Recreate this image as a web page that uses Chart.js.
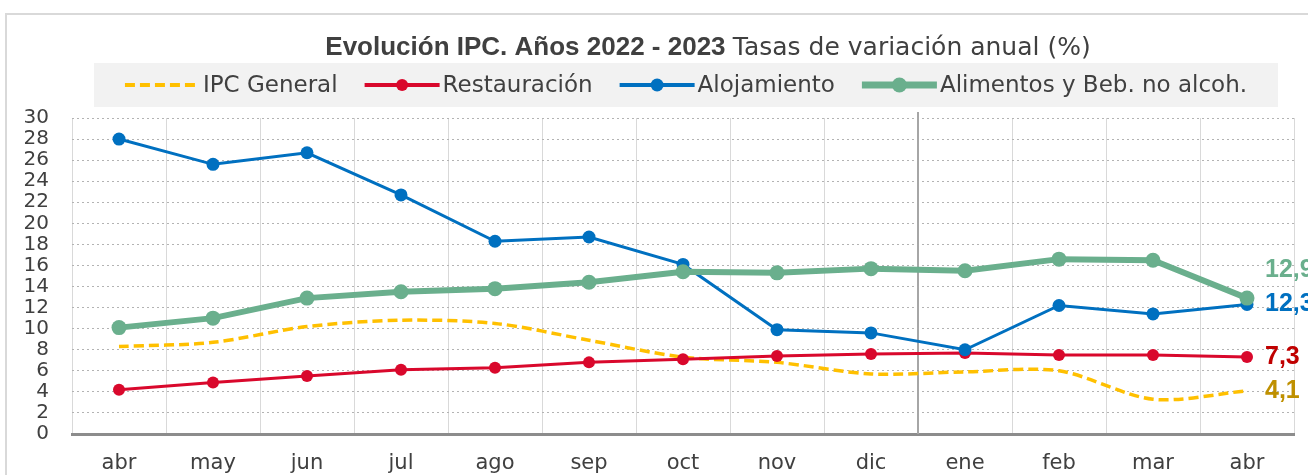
<!DOCTYPE html>
<html>
<head>
<meta charset="utf-8">
<title>Evolución IPC</title>
<script src="https://cdn.jsdelivr.net/npm/chart.js@4.4.1/dist/chart.umd.min.js"></script>
<style>
body{margin:0;background:#fff;}
.wrap{width:1308px;height:475px;position:relative;}
</style>
</head>
<body>
<div class="wrap"><canvas id="ipcChart" width="1308" height="475"></canvas></div>
<script>
// ====================================
// DATA
// ====================================

const meses = ['abr','may','jun','jul','ago','sep','oct','nov','dic','ene','feb','mar','abr'];

const ipcGeneral   = [8.3, 8.7, 10.2, 10.8, 10.5, 8.9, 7.3, 6.8, 5.7, 5.9, 6.0, 3.3, 4.1];
const restauracion = [4.2, 4.9, 5.5, 6.1, 6.3, 6.8, 7.1, 7.4, 7.6, 7.7, 7.5, 7.5, 7.3];
const alojamiento  = [28.0, 25.6, 26.7, 22.7, 18.3, 18.7, 16.1, 9.9, 9.6, 8.0, 12.2, 11.4, 12.3];
const alimentos    = [10.1, 11.0, 12.9, 13.5, 13.8, 14.4, 15.4, 15.3, 15.7, 15.5, 16.6, 16.5, 12.9];

const yTicks = [0, 2, 4, 6, 8, 10, 12, 14, 16, 18, 20, 22, 24, 26, 28, 30];

const tituloBold   = 'Evolución IPC. Años 2022 - 2023';
const tituloNormal = 'Tasas de variación anual (%)';

// ====================================
// LAYOUT
// ====================================

const PLOT_LEFT = 72;
const PLOT_RIGHT = 1294;
const PLOT_TOP = 118;
const PLOT_BOTTOM = 434;
const TEXT = '#404040';

Chart.defaults.font.family = 'DejaVu Sans';
Chart.defaults.color = TEXT;

// ====================================
// PLUGIN: marco, titulo, leyenda, etiquetas
// ====================================

const decoPlugin = {
    id: 'deco',

    beforeDraw(chart){
        const ctx = chart.ctx;
        ctx.save();
        ctx.fillStyle = '#ffffff';
        ctx.fillRect(0, 0, chart.width, chart.height);

        // marco exterior
        ctx.strokeStyle = '#d9d9d9';
        ctx.lineWidth = 2;
        ctx.strokeRect(6, 14, chart.width + 20, chart.height + 20);

        // fondo leyenda
        ctx.fillStyle = '#f2f2f2';
        ctx.fillRect(94, 63, 1184, 44);
        ctx.restore();
    },

    beforeDatasetsDraw(chart){
        // separador 2022 / 2023
        const ctx = chart.ctx;
        const xs = chart.scales.x;
        const x = (xs.getPixelForValue(8) + xs.getPixelForValue(9)) / 2;
        ctx.save();
        ctx.strokeStyle = '#a6a6a6';
        ctx.lineWidth = 2;
        ctx.beginPath();
        ctx.moveTo(x, 112);
        ctx.lineTo(x, chart.chartArea.bottom);
        ctx.stroke();
        ctx.restore();
    },

    afterDraw(chart){
        const ctx = chart.ctx;
        ctx.save();

        // titulo
        const fBold = 'bold 26px "Liberation Sans"';
        const fNorm = '25px "DejaVu Sans"';
        ctx.font = fBold;
        const wB = ctx.measureText(tituloBold + ' ').width;
        ctx.font = fNorm;
        const wN = ctx.measureText(tituloNormal).width;
        let tx = 708 - (wB + wN) / 2;
        ctx.fillStyle = TEXT;
        ctx.textBaseline = 'alphabetic';
        ctx.textAlign = 'left';
        ctx.font = fBold;
        ctx.fillText(tituloBold, tx, 55);
        ctx.font = fNorm;
        ctx.fillText(tituloNormal, tx + wB, 55);

        // leyenda
        const symW = 75, gapTxt = 3, gapItem = 27, cy = 85;
        ctx.font = '23px "DejaVu Sans"';
        const ds = chart.data.datasets;
        const widths = ds.map(d => symW + gapTxt + ctx.measureText(d.label).width);
        const total = widths.reduce((a, b) => a + b, 0) + gapItem * (ds.length - 1);
        let lx = 686 - total / 2;
        ds.forEach((d, i) => {
            ctx.save();
            ctx.strokeStyle = d.borderColor;
            ctx.lineWidth = d.legendWidth;
            ctx.setLineDash(d.borderDash || []);
            ctx.beginPath();
            ctx.moveTo(lx, cy);
            ctx.lineTo(lx + symW, cy);
            ctx.stroke();
            if (d.pointRadius > 0) {
                ctx.fillStyle = d.borderColor;
                ctx.beginPath();
                ctx.arc(lx + symW / 2, cy, d.pointRadius, 0, Math.PI * 2);
                ctx.fill();
            }
            ctx.restore();
            ctx.fillStyle = TEXT;
            ctx.textBaseline = 'middle';
            ctx.fillText(d.label, lx + symW + gapTxt, cy + 1);
            lx += widths[i] + gapItem;
        });

        // etiquetas del ultimo punto
        ctx.font = 'bold 25px "Liberation Sans"';
        ctx.textBaseline = 'middle';
        ds.forEach((d, i) => {
            const meta = chart.getDatasetMeta(i);
            const pt = meta.data[meta.data.length - 1];
            const v = d.data[d.data.length - 1];
            ctx.fillStyle = d.labelColor;
            ctx.fillText(v.toFixed(1).replace('.', ','), pt.x + 18, pt.y + d.labelShift);
        });

        ctx.restore();
    }
};

// ====================================
// CHART
// ====================================

const ctxIpc = document.getElementById('ipcChart').getContext('2d');

const ipcChart = new Chart(ctxIpc, {
    type: 'line',
    data: {
        labels: meses,
        datasets: [
            {
                label: 'IPC General',
                data: ipcGeneral,
                borderColor: '#FFC000',
                borderWidth: 3.5,
                borderDash: [10, 5],
                tension: 0.3,
                pointRadius: 0,
                legendWidth: 4,
                labelColor: '#BF9000',
                labelShift: 0,
                order: 4
            },
            {
                label: 'Restauración',
                data: restauracion,
                borderColor: '#D9082C',
                backgroundColor: '#D9082C',
                borderWidth: 3,
                pointRadius: 6,
                pointBorderWidth: 0,
                legendWidth: 4,
                labelColor: '#C00000',
                labelShift: 0,
                order: 3
            },
            {
                label: 'Alojamiento',
                data: alojamiento,
                borderColor: '#0070C0',
                backgroundColor: '#0070C0',
                borderWidth: 3,
                pointRadius: 6.5,
                pointBorderWidth: 0,
                legendWidth: 4,
                labelColor: '#0070C0',
                labelShift: 0,
                order: 2
            },
            {
                label: 'Alimentos y Beb. no alcoh.',
                data: alimentos,
                borderColor: '#6AAF8D',
                backgroundColor: '#6AAF8D',
                borderWidth: 6,
                pointRadius: 7.5,
                pointBorderWidth: 0,
                legendWidth: 7,
                labelColor: '#6AAF8D',
                labelShift: -28,
                order: 1
            }
        ]
    },
    options: {
        responsive: false,
        animation: false,
        devicePixelRatio: 1,
        layout: {
            padding: { top: PLOT_TOP, right: 1308 - PLOT_RIGHT, left: 0, bottom: 0 }
        },
        plugins: {
            legend: { display: false },
            title: { display: false },
            tooltip: { enabled: false }
        },
        scales: {
            x: {
                offset: true,
                afterFit: s => { s.height = 475 - PLOT_BOTTOM; },
                grid: {
                    offset: true,
                    color: '#d9d9d9',
                    lineWidth: 1,
                    drawTicks: false
                },
                border: { display: true, color: '#8c8c8c', width: 3 },
                ticks: {
                    font: { size: 21 },
                    color: TEXT,
                    padding: 17,
                    maxRotation: 0,
                    autoSkip: false
                }
            },
            y: {
                min: 0,
                max: 30,
                afterFit: s => { s.width = PLOT_LEFT; },
                afterBuildTicks: s => { s.ticks = yTicks.map(v => ({ value: v })); },
                grid: {
                    color: '#b3b3b3',
                    lineWidth: 1,
                    drawTicks: false
                },
                border: { display: false, dash: [2, 3] },
                ticks: {
                    font: { size: 20 },
                    color: TEXT,
                    padding: 23,
                    autoSkip: false
                }
            }
        }
    },
    plugins: [decoPlugin]
});
</script>
</body>
</html>
